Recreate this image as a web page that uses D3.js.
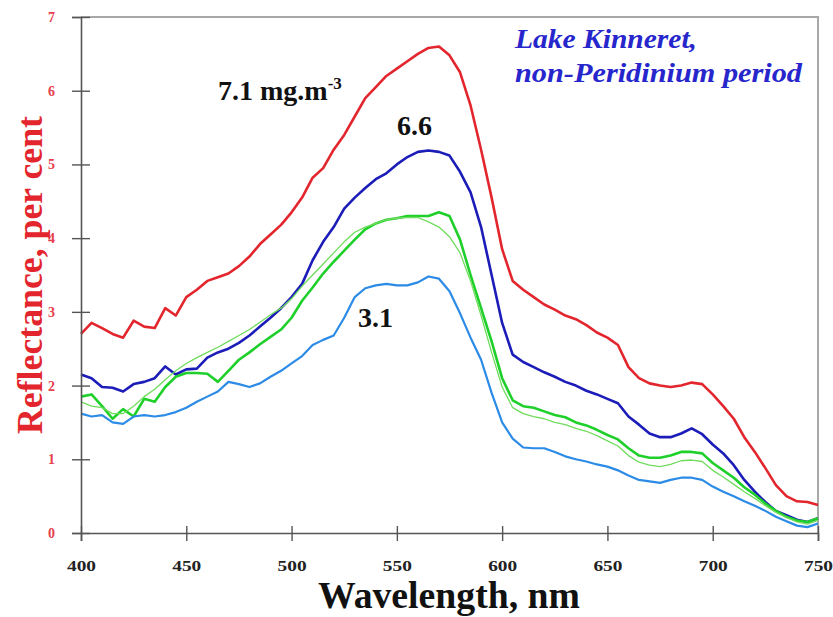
<!DOCTYPE html>
<html>
<head>
<meta charset="utf-8">
<script src="https://cdn.jsdelivr.net/npm/d3@7"></script>
<style>
  body { margin: 0; background: #fff; }
  svg { display: block; }
</style>
</head>
<body>
<div id="chart"></div>
<script>
// wavelength grid, nm (5 nm steps)
const wavelengths = d3.range(400, 751, 5)

// reflectance, per cent
const red71 = [2.7, 2.85, 2.78, 2.7, 2.65, 2.88, 2.8, 2.78, 3.05, 2.95,
  3.2, 3.3, 3.42, 3.47, 3.52, 3.62, 3.75, 3.92, 4.05, 4.18,
  4.35, 4.55, 4.82, 4.95, 5.2, 5.4, 5.65, 5.9, 6.05, 6.2,
  6.3, 6.4, 6.5, 6.58, 6.6, 6.48, 6.25, 5.8, 5.2, 4.55,
  3.85, 3.42, 3.3, 3.2, 3.1, 3.03, 2.95, 2.9, 2.82, 2.72,
  2.65, 2.55, 2.25, 2.1, 2.03, 2.0, 1.98, 2.0, 2.04, 2.02,
  1.88, 1.72, 1.55, 1.3, 1.1, 0.88, 0.65, 0.5, 0.43, 0.42, 0.38]

const blue66 = [2.15, 2.1, 1.98, 1.97, 1.92, 2.02, 2.05, 2.1, 2.26, 2.15,
  2.22, 2.23, 2.38, 2.45, 2.5, 2.58, 2.68, 2.8, 2.92, 3.05,
  3.2, 3.38, 3.7, 3.95, 4.15, 4.4, 4.55, 4.68, 4.8, 4.88,
  5.0, 5.1, 5.17, 5.19, 5.17, 5.12, 4.9, 4.62, 4.15, 3.5,
  2.85, 2.42, 2.32, 2.25, 2.18, 2.12, 2.05, 2.0, 1.93, 1.88,
  1.82, 1.76, 1.58, 1.47, 1.35, 1.3, 1.3, 1.35, 1.42, 1.34,
  1.2, 1.08, 0.92, 0.72, 0.56, 0.42, 0.3, 0.24, 0.18, 0.15, 0.2]

const greenA = [1.85, 1.88, 1.72, 1.55, 1.68, 1.58, 1.82, 1.78, 1.98, 2.12,
  2.17, 2.17, 2.16, 2.05, 2.2, 2.35, 2.45, 2.56, 2.66, 2.76,
  2.92, 3.15, 3.33, 3.52, 3.68, 3.83, 3.98, 4.12, 4.2, 4.25,
  4.27, 4.3, 4.3, 4.3, 4.35, 4.3, 3.98, 3.5, 3.05, 2.6,
  2.1, 1.8, 1.72, 1.7, 1.65, 1.6, 1.57, 1.5, 1.46, 1.4,
  1.33, 1.27, 1.15, 1.05, 1.02, 1.02, 1.05, 1.1, 1.1, 1.08,
  0.95, 0.85, 0.75, 0.62, 0.52, 0.4, 0.3, 0.22, 0.17, 0.15, 0.2]

const greenB = [1.78, 1.72, 1.7, 1.62, 1.62, 1.72, 1.85, 1.95, 2.08, 2.2,
  2.3, 2.38, 2.45, 2.52, 2.6, 2.68, 2.76, 2.86, 2.96, 3.05,
  3.18, 3.35, 3.5, 3.65, 3.8, 3.95, 4.08, 4.15, 4.2, 4.25,
  4.27, 4.28, 4.28, 4.22, 4.15, 4.02, 3.8, 3.42, 2.95, 2.45,
  1.98, 1.7, 1.62, 1.58, 1.55, 1.5, 1.47, 1.42, 1.38, 1.32,
  1.25, 1.18, 1.05, 0.96, 0.92, 0.9, 0.93, 0.98, 0.99, 0.97,
  0.85, 0.76, 0.66, 0.56, 0.47, 0.37, 0.28, 0.21, 0.15, 0.12, 0.17]

const blue31 = [1.62, 1.58, 1.6, 1.5, 1.48, 1.58, 1.6, 1.58, 1.6, 1.64,
  1.7, 1.78, 1.85, 1.92, 2.05, 2.02, 1.98, 2.03, 2.12, 2.2,
  2.3, 2.4, 2.55, 2.62, 2.68, 2.92, 3.2, 3.32, 3.36, 3.38,
  3.36, 3.36, 3.4, 3.48, 3.45, 3.28, 2.98, 2.65, 2.35, 1.9,
  1.5, 1.28, 1.16, 1.15, 1.15, 1.1, 1.04, 1.0, 0.97, 0.93,
  0.9, 0.85, 0.78, 0.72, 0.7, 0.68, 0.72, 0.75, 0.75, 0.72,
  0.63, 0.56, 0.5, 0.43, 0.37, 0.3, 0.22, 0.16, 0.1, 0.08, 0.13]

const series = [
  { name: '7.1', values: red71, color: '#e3262e', width: 2.6 },
  { name: '6.6', values: blue66, color: '#1c1cb8', width: 2.6 },
  { name: 'green', values: greenA, color: '#1fcf2a', width: 2.6 },
  { name: 'green-thin', values: greenB, color: '#6fdc5c', width: 1.3 },
  { name: '3.1', values: blue31, color: '#2b8be6', width: 2.2 },
]

const xTicks = [400, 450, 500, 550, 600, 650, 700, 750]
const yTicks = [0, 1, 2, 3, 4, 5, 6, 7]

const width = 833
const height = 617
const margin = { left: 81, right: 15, top: 17, bottom: 84 }
const serif = '"Liberation Serif", "Times New Roman", serif'

const svg = d3.select('#chart').append('svg')
  .attr('width', width)
  .attr('height', height)

const x = d3.scaleLinear().domain([400, 750]).range([margin.left, width - margin.right])
const y = d3.scaleLinear().domain([0, 7]).range([height - margin.bottom, margin.top])

// frame: light grey top and right edges
svg.append('path')
  .attr('d', `M${x(400)},${y(7)}H${x(750)}V${y(0)}`)
  .attr('fill', 'none')
  .attr('stroke', '#a8a8a8')
  .attr('stroke-width', 2)

// curves
const line = d3.line()
  .x((d, i) => x(wavelengths[i]))
  .y(d => y(d))

svg.append('g')
  .selectAll('path')
  .data(series)
  .join('path')
  .attr('fill', 'none')
  .attr('stroke', d => d.color)
  .attr('stroke-width', d => d.width)
  .attr('stroke-linejoin', 'round')
  .attr('d', d => line(d.values))

// x axis, ticks crossing the line
const xAxis = svg.append('g')
  .attr('transform', `translate(0,${y(0)})`)
  .call(d3.axisBottom(x).tickValues(xTicks).tickFormat(d3.format('d')).tickSize(8).tickPadding(20))
xAxis.select('.domain').attr('stroke', '#555').attr('stroke-width', 1.6)
xAxis.selectAll('.tick line').attr('y1', -7).attr('stroke', '#555').attr('stroke-width', 1.4)
xAxis.selectAll('.tick text')
  .attr('font-family', serif)
  .attr('font-weight', 'bold')
  .attr('font-size', 14)
  .attr('fill', '#222')
  .attr('textLength', 29)
  .attr('lengthAdjust', 'spacingAndGlyphs')

// y axis, ticks crossing the line
const yAxis = svg.append('g')
  .attr('transform', `translate(${x(400)},0)`)
  .call(d3.axisLeft(y).tickValues(yTicks).tickFormat(d3.format('d')).tickSize(9).tickPadding(17))
yAxis.select('.domain').attr('stroke', '#555').attr('stroke-width', 1.6)
yAxis.selectAll('.tick line').attr('x1', 9).attr('stroke', '#555').attr('stroke-width', 1.4)
yAxis.selectAll('.tick text')
  .attr('font-family', serif)
  .attr('font-weight', 'bold')
  .attr('font-size', 14)
  .attr('fill', '#e8404c')

// axis titles
svg.append('text')
  .attr('x', 449)
  .attr('y', 608)
  .attr('text-anchor', 'middle')
  .attr('font-family', serif)
  .attr('font-weight', 'bold')
  .attr('font-size', 37)
  .attr('fill', '#111')
  .attr('textLength', 262)
  .attr('lengthAdjust', 'spacingAndGlyphs')
  .text('Wavelength, nm')

svg.append('text')
  .attr('transform', 'translate(42,275) rotate(-90)')
  .attr('text-anchor', 'middle')
  .attr('font-family', serif)
  .attr('font-weight', 'bold')
  .attr('font-size', 35)
  .attr('fill', '#e3262e')
  .attr('textLength', 318)
  .attr('lengthAdjust', 'spacingAndGlyphs')
  .text('Reflectance, per cent')

// curve labels
const label71 = svg.append('text')
  .attr('x', 218)
  .attr('y', 100)
  .attr('font-family', serif)
  .attr('font-weight', 'bold')
  .attr('font-size', 28)
  .attr('fill', '#111')
label71.append('tspan').text('7.1 mg.m')
label71.append('tspan').attr('dy', -11).attr('font-size', 17).text('-3')

svg.append('text')
  .attr('x', 397)
  .attr('y', 135)
  .attr('font-family', serif)
  .attr('font-weight', 'bold')
  .attr('font-size', 28)
  .attr('fill', '#111')
  .text('6.6')

svg.append('text')
  .attr('x', 358)
  .attr('y', 327)
  .attr('font-family', serif)
  .attr('font-weight', 'bold')
  .attr('font-size', 28)
  .attr('fill', '#111')
  .text('3.1')

// site note
const note = svg.append('g')
  .attr('font-family', serif)
  .attr('font-weight', 'bold')
  .attr('font-style', 'italic')
  .attr('font-size', 27)
  .attr('fill', '#2626cc')
note.append('text')
  .attr('x', 515)
  .attr('y', 48)
  .attr('textLength', 182)
  .attr('lengthAdjust', 'spacingAndGlyphs')
  .text('Lake Kinneret,')
note.append('text')
  .attr('x', 515)
  .attr('y', 82)
  .attr('textLength', 287)
  .attr('lengthAdjust', 'spacingAndGlyphs')
  .text('non-Peridinium period')
</script>
</body>
</html>
